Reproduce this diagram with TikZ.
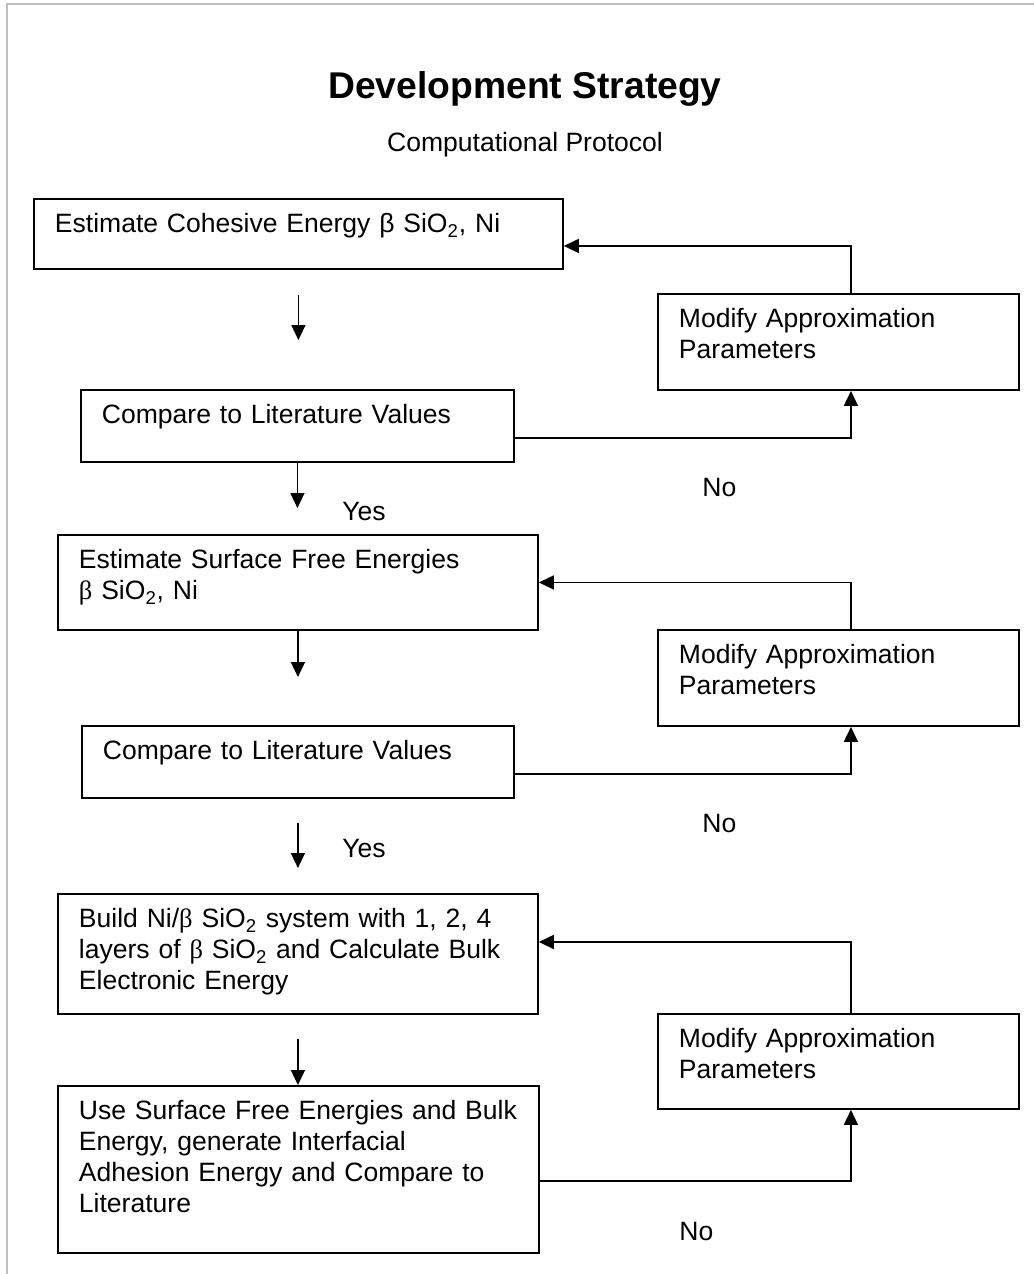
\documentclass[tikz,border=0pt]{standalone}
\usepackage{fontspec}
\setmainfont{Liberation Sans}
\newfontfamily\symbfont{Liberation Serif}
\usetikzlibrary{arrows.meta}
\def\sio{SiO\textsubscript{2}}
\def\sbeta{{\symbfont β}}

\tikzset{
  stepbox/.style={draw, line width=1.1pt, anchor=north west, align=left,
    inner xsep=0.42cm, inner ysep=0.2cm, text height=0.48cm,
    font=\fontsize{15.1}{17.6}\selectfont},
  flowline/.style={line width=0.9pt, -{Triangle[length=0.3cm,width=0.28cm]}},
  answer/.style={anchor=base west, inner sep=0pt, font=\fontsize{15.1}{17.6}\selectfont}
}

\begin{document}
\begin{tikzpicture}[x=0.02cm, y=-0.02cm]
  \useasboundingbox (0,0) rectangle (1034,1274);
  \draw [black!25, line width=0.04cm] (1034,4) -- (7,4) -- (7,1274);
  % headings
  \node [font=\bfseries\fontsize{21.2}{25}\selectfont, anchor=base, inner sep=0pt] (title) at (525,98) {Development Strategy};
  \node [answer, anchor=base] (protocol) at (525,152) {Computational Protocol};
  % main column
  \node [stepbox, text width=9.74cm, text depth=0.52cm] (cohesive) at (33,198) {Estimate Cohesive Energy β \sio, Ni};
  \node [stepbox, text width=7.82cm, text depth=0.56cm] (cmpA) at (80,389) {Compare to Literature Values};
  \node [stepbox, text width=8.76cm, text depth=1.02cm] (surface) at (57,534) {Estimate Surface Free Energies\\\sbeta\ \sio, Ni};
  \node [stepbox, text width=7.80cm, text depth=0.56cm] (cmpB) at (81,725) {Compare to Literature Values};
  \node [stepbox, text width=8.76cm, text depth=1.52cm] (build) at (57,893) {Build Ni/\sbeta\ \sio\ system with 1, 2, 4\\layers of \sbeta\ \sio\ and Calculate Bulk\\Electronic Energy};
  \node [stepbox, text width=8.78cm, text depth=2.46cm] (adhesion) at (57,1085) {Use Surface Free Energies and Bulk\\Energy, generate Interfacial\\Adhesion Energy and Compare to\\Literature};
  % feedback boxes
  \node [stepbox, text width=6.38cm, text depth=1.04cm] (modA) at (657,293) {Modify Approximation\\Parameters};
  \node [stepbox, text width=6.38cm, text depth=1.04cm] (modB) at (657,629) {Modify Approximation\\Parameters};
  \node [stepbox, text width=6.38cm, text depth=1.02cm] (modC) at (657,1013) {Modify Approximation\\Parameters};
  % downward arrows
  \draw [flowline, shorten <=0.5cm, shorten >=0.98cm] (cohesive.south) -- (cohesive.south |- cmpA.north);
  \draw [flowline, shorten >=0.52cm] (cmpA.south) -- (cmpA.south |- surface.north);
  \draw [flowline, shorten >=0.96cm] (surface.south) -- (surface.south |- cmpB.north);
  \draw [flowline, shorten <=0.48cm, shorten >=0.5cm] (cmpB.south) -- (cmpB.south |- build.north);
  \draw [flowline, shorten <=0.48cm] (build.south) -- (build.south |- adhesion.north);
  % loops back
  \draw [flowline] ([yshift=-0.24cm]cmpA.east) -| ([xshift=0.25cm]modA.south);
  \draw [flowline] ([xshift=0.25cm]modA.north) |- ([yshift=-0.24cm]cohesive.east);
  \draw [flowline] ([yshift=-0.24cm]cmpB.east) -| ([xshift=0.25cm]modB.south);
  \draw [flowline] ([xshift=0.25cm]modB.north) |- (surface.east);
  \draw [flowline] ([yshift=-0.23cm]adhesion.east) -| ([xshift=0.25cm]modC.south);
  \draw [flowline] ([xshift=0.25cm]modC.north) |- ([yshift=0.24cm]build.east);
  % answers
  \node [answer] (yesA) at (342,520) {Yes};
  \node [answer] (noA) at (702,496) {No};
  \node [answer] (yesB) at (342,857) {Yes};
  \node [answer] (noB) at (702,832) {No};
  \node [answer] (noC) at (679,1240) {No};
\end{tikzpicture}
\end{document}
